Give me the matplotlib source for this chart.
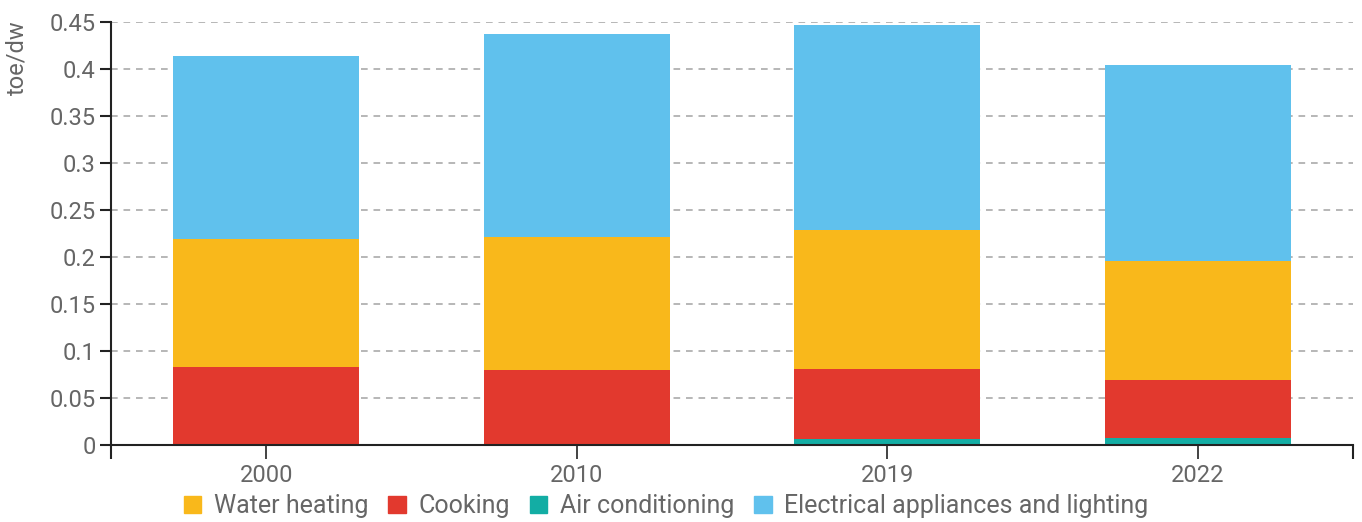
import matplotlib
matplotlib.use("Agg")
import matplotlib.pyplot as plt
from matplotlib.patches import Patch
import numpy as np

years = ["2000", "2010", "2019", "2022"]
air_conditioning = [0.0005, 0.001, 0.006, 0.007]
cooking = [0.083, 0.079, 0.075, 0.062]
water_heating = [0.136, 0.141, 0.148, 0.127]
electrical = [0.194, 0.216, 0.218, 0.208]
yticks = [0, 0.05, 0.1, 0.15, 0.2, 0.25, 0.3, 0.35, 0.4, 0.45]

c_water = "#F9B81B"
c_cook = "#E2392E"
c_ac = "#13ADA4"
c_elec = "#60C1ED"
grey = "#666666"

plt.rcParams['font.family'] = ['Roboto', 'DejaVu Sans']

fig = plt.figure(figsize=(13.62, 5.22), dpi=100)
ax = fig.add_axes([111/1362, 1-445/522, (1353-111)/1362, (445-22)/522])

x = np.arange(len(years))
w = 0.6
b = np.zeros(len(years))
for vals, col in [(air_conditioning, c_ac), (cooking, c_cook), (water_heating, c_water), (electrical, c_elec)]:
    ax.bar(x, vals, w, bottom=b, color=col, zorder=3)
    b = b + np.array(vals)

ax.set_xlim(-0.5, 3.5)
ax.set_ylim(0, 0.45)
ax.set_yticks(yticks)
ax.set_yticklabels([f"{t:g}" for t in yticks])
ax.set_xticks(x)
ax.set_xticklabels(years)
ax.set_xticks([-0.5, 3.5], minor=True)
ax.tick_params(axis='x', which='minor', length=10, width=1.5, color='#222222')
ax.tick_params(axis='x', which='major', length=10, width=1.2, color='#222222', labelsize=17, labelcolor=grey, pad=4)
ax.tick_params(axis='y', length=8, width=1.5, color='#222222', labelsize=17, labelcolor=grey, pad=3)

ax.grid(axis='y', linestyle=(0, (4, 3.5)), color='#AAAAAA', linewidth=1.2, zorder=0)
for s in ['top', 'right']:
    ax.spines[s].set_visible(False)
ax.spines['left'].set_color('#222222')
ax.spines['left'].set_linewidth(1.5)
ax.spines['bottom'].set_color('#222222')
ax.spines['bottom'].set_linewidth(1.5)
ax.spines['bottom'].set_zorder(4)

ax.text(-0.076, 1.005, "toe/dw", transform=ax.transAxes, rotation=90,
        ha='center', va='top', fontsize=17, color=grey)

handles = [Patch(color=c_water, label="Water heating"),
           Patch(color=c_cook, label="Cooking"),
           Patch(color=c_ac, label="Air conditioning"),
           Patch(color=c_elec, label="Electrical appliances and lighting")]
leg = fig.legend(handles=handles, loc='center', bbox_to_anchor=(666/1362, 1-506/522),
                 ncol=4, frameon=False, fontsize=18, handlelength=0.7, handleheight=0.7,
                 handletextpad=0.5, columnspacing=0.8, borderpad=0)
for t in leg.get_texts():
    t.set_color(grey)

fig.savefig("out.png", dpi=100)
